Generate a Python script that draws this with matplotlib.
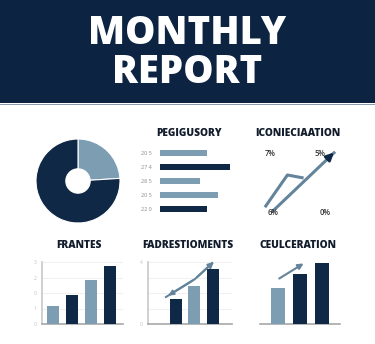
import matplotlib
matplotlib.use("Agg")
import matplotlib.pyplot as plt
from matplotlib.patches import Rectangle

W, H = 375, 344
NAVY = "#0c2442"
DARK = "#0f2846"
LIGHT = "#7d9db3"
STEEL = "#64849b"
TITLE_C = "#121c2c"

plt.rcParams['font.family'] = ['Open Sans', 'DejaVu Sans']

# ---------------- data ----------------
donut_values = [24, 76]
donut_colors = [LIGHT, DARK]

hbar_labels = ["20 5", "27 4", "28 5", "20 5", "22 0"]
hbar_values = [47, 70, 40, 58, 47]
hbar_colors = [LIGHT, DARK, LIGHT, LIGHT, DARK]

line_a_x = [1.1, 3.6, 5.4]
line_a_y = [1.7, 6.0, 5.6]
line_b_x = [1.9, 8.9]
line_b_y = [1.1, 9.1]
pct_labels = ["7%", "5%", "6%", "0%"]
pct_x = [1.7, 7.2, 2.0, 7.8]
pct_y = [8.9, 8.9, 1.0, 1.0]

fr_x = [1, 2, 3, 4]
fr_vals = [1.16, 1.87, 2.84, 3.74]
fr_colors = [LIGHT, DARK, LIGHT, DARK]
fr_ticklabels = ["0", "1", "0", "2", "3"]

fa_x = [1, 2, 3]
fa_vals = [1.6, 2.45, 3.55]
fa_colors = [DARK, LIGHT, DARK]
fa_trend_x = [0.46, 2.03, 3.16]
fa_trend_y = [1.74, 2.9, 4.13]

ce_x = [1, 2, 3]
ce_vals = [2.32, 3.23, 3.94]
ce_colors = [LIGHT, DARK, DARK]
ce_trend_x = [0.95, 2.26]
ce_trend_y = [2.84, 4.0]


def box(x0, y0, x1, y1):
    return [x0 / W, 1 - y1 / H, (x1 - x0) / W, (y1 - y0) / H]


def clean(ax):
    for s in ax.spines.values():
        s.set_visible(False)
    ax.set_xticks([])
    ax.set_yticks([])
    ax.patch.set_alpha(0)


fig = plt.figure(figsize=(W / 100, H / 100), dpi=100)
fig.patch.set_facecolor("white")

# header
fig.patches.append(Rectangle((0, 1 - 103 / H), 1, 103 / H, transform=fig.transFigure,
                             facecolor=NAVY, edgecolor="none"))
fig.patches.append(Rectangle((0, 1 - 105 / H), 1, 1.5 / H, transform=fig.transFigure,
                             facecolor="#8d9cac", edgecolor="none"))
fig.text(0.5, 1 - 44 / H, "MONTHLY", ha="center", va="baseline", color="white",
         fontsize=27.5, fontweight="heavy")
fig.text(0.5, 1 - 83 / H, "REPORT", ha="center", va="baseline", color="white",
         fontsize=27.5, fontweight="heavy")

# panel titles
for x, y, t in [(189, 133, "PEGIGUSORY"), (298, 133, "ICONIECIAATION"),
                (79, 245, "FRANTES"), (188, 245, "FADRESTIOMENTS"),
                (298, 245, "CEULCERATION")]:
    fig.text(x / W, 1 - y / H, t, ha="center", va="center", color=TITLE_C,
             fontsize=7.3, fontweight="heavy")

# donut
ax = fig.add_axes(box(36, 139, 120, 223))
ax.pie(donut_values, colors=donut_colors, startangle=90, counterclock=False,
       wedgeprops=dict(width=0.71, edgecolor="white", linewidth=0.8))
ax.set_xlim(-1, 1)
ax.set_ylim(-1, 1)

# horizontal bars
ax = fig.add_axes(box(160, 146, 240, 216))
clean(ax)
ypos = list(range(len(hbar_values)))
ax.barh(ypos, hbar_values, height=0.43, color=hbar_colors)
ax.set_xlim(0, 80)
ax.set_ylim(4.5, -0.5)
ax.set_yticks(ypos)
ax.set_yticklabels(hbar_labels, fontsize=4, color="#8a8a8a")
ax.tick_params(axis="y", length=0, pad=6)

# line/arrow panel
ax = fig.add_axes(box(255, 145, 345, 220))
clean(ax)
ax.set_xlim(0, 10)
ax.set_ylim(0, 10)
ax.plot(line_a_x, line_a_y, color=STEEL, lw=2.2, solid_capstyle="butt")
ax.plot(line_b_x, line_b_y, color=STEEL, lw=2.2, solid_capstyle="butt")
ax.annotate("", xy=(line_b_x[1] + 0.1, line_b_y[1] + 0.15),
            xytext=(line_b_x[1] - 0.9, line_b_y[1] - 1.0),
            arrowprops=dict(arrowstyle="-|>", color=DARK, lw=2, mutation_scale=11))
for t, x, y in zip(pct_labels, pct_x, pct_y):
    ax.text(x, y, t, ha="center", va="center", fontsize=5.5, color="#333333",
            fontweight="semibold")

# FRANTES
ax = fig.add_axes(box(42, 262, 123, 324))
for s in ["top", "right"]:
    ax.spines[s].set_visible(False)
ax.spines["left"].set_color("#c8c8c8")
ax.spines["bottom"].set_color("#a8a8a8")
ax.spines["left"].set_linewidth(1.2)
ax.spines["bottom"].set_linewidth(1.2)
ax.bar(fr_x, fr_vals, width=0.63, color=fr_colors, zorder=3)
ax.set_xlim(0.42, 4.68)
ax.set_ylim(0, 4)
ax.set_yticks(range(5))
ax.set_yticklabels(fr_ticklabels, fontsize=3.5, color="#c0c0c0")
ax.set_xticks([])
ax.tick_params(axis="y", length=0, pad=4)
ax.grid(axis="y", color="#eeeeee", lw=0.6)

# FADRESTIOMENTS
ax = fig.add_axes(box(148, 262, 232, 324))
for s in ["top", "right"]:
    ax.spines[s].set_visible(False)
ax.spines["left"].set_color("#c8c8c8")
ax.spines["bottom"].set_color("#a8a8a8")
ax.spines["left"].set_linewidth(1.2)
ax.spines["bottom"].set_linewidth(1.2)
ax.bar(fa_x, fa_vals, width=0.65, color=fa_colors, zorder=3)
ax.set_xlim(-0.51, 4.03)
ax.set_ylim(0, 4)
ax.set_yticks(range(5))
ax.set_yticklabels(["0", "", "", "", "4"], fontsize=3.5, color="#c0c0c0")
ax.set_xticks([])
ax.tick_params(axis="y", length=0, pad=4)
ax.grid(axis="y", color="#eeeeee", lw=0.6)
ax.plot(fa_trend_x[:2] + [fa_trend_x[2] - 0.2], fa_trend_y[:2] + [fa_trend_y[2] - 0.2],
        color=STEEL, lw=1.5, zorder=4, clip_on=False)
ax.annotate("", xy=(fa_trend_x[2], fa_trend_y[2]), xytext=(fa_trend_x[1], fa_trend_y[1]),
            arrowprops=dict(arrowstyle="-|>", color=STEEL, lw=1.5, mutation_scale=8),
            zorder=4, annotation_clip=False)
ax.annotate("", xy=(fa_trend_x[0], fa_trend_y[0]), xytext=(fa_trend_x[1], fa_trend_y[1]),
            arrowprops=dict(arrowstyle="-|>", color=STEEL, lw=1.5, mutation_scale=7),
            zorder=4, annotation_clip=False)

# CEULCERATION
ax = fig.add_axes(box(260, 262, 340, 324))
for s in ["top", "right", "left"]:
    ax.spines[s].set_visible(False)
ax.spines["bottom"].set_color("#a8a8a8")
ax.spines["bottom"].set_linewidth(1.2)
ax.bar(ce_x, ce_vals, width=0.63, color=ce_colors, zorder=3)
ax.set_xlim(0.19, 3.79)
ax.set_ylim(0, 4)
ax.set_xticks([])
ax.set_yticks([])
ax.annotate("", xy=(ce_trend_x[1], ce_trend_y[1]), xytext=(ce_trend_x[0], ce_trend_y[0]),
            arrowprops=dict(arrowstyle="-|>", color=STEEL, lw=1.5, mutation_scale=8),
            zorder=4, annotation_clip=False)

fig.savefig("out.png", dpi=100, facecolor=fig.get_facecolor())
